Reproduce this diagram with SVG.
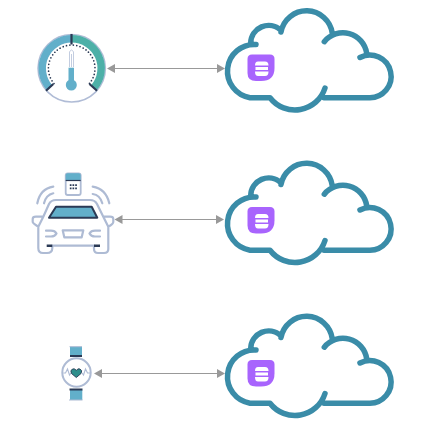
<svg xmlns="http://www.w3.org/2000/svg" width="427" height="427" viewBox="0 0 427 427">
<style>
.c{fill:none;stroke:#3a8ca8;stroke-width:5.5;stroke-linecap:round;stroke-linejoin:round}
.a{fill:none;stroke:#999;stroke-width:1}
.o{fill:none;stroke:#aebbd4;stroke-width:2.200;stroke-linecap:round;stroke-linejoin:round}
.d{fill:none;stroke:#2b3a55;stroke-width:2.200}
.h{fill:#999}
.ic{fill:#a864fd}
.b{fill:#fff}
</style>
<defs>
<g id="cloud">
<path class="c" d="M256 44.500A26.800 26.800 0 0 0 250 97.700H270A31.500 31.500 0 0 0 325 88M324 97.700H369A21.300 21.300 0 1 0 360 57.500M366.700 53.300A24 24 0 0 0 324.300 41.700M332.300 33.300A26 26 0 0 0 281 32M280.700 30A18 18 0 0 0 250.700 43"/>
<path class="ic" d="M252 54.500H270Q274.500 54.500 274.500 59V68Q274.500 81 261 81H256Q247.500 81 247.500 73V59Q247.500 54.500 252 54.500Z"/>
<path class="b" d="M258 61.500H265Q268.500 61.500 268.500 65.500H255Q255 61.500 258 61.500ZM255.500 67H268V70H255.500ZM255 71.500H268.500Q268.500 76 265 76H258Q255 76 255 71.500Z"/>
</g>
</defs>
<g id="connectors">
<path class="a" d="M112 68.500H220"/><path class="h" d="M107 68.500L115 64V73ZM225 68.500L217 64V73Z"/>
<path class="a" d="M120 219.500H220"/><path class="h" d="M114.500 219.500L122.500 215V224ZM224 219.500L216 215V224Z"/>
<path class="a" d="M99 373.500H220"/><path class="h" d="M94 373.500L102 369V378ZM225 373.500L217 369V378Z"/>
</g>
<g id="cloud-1"><use href="#cloud"/></g>
<g id="cloud-2"><use href="#cloud" y="152.500"/></g>
<g id="cloud-3"><use href="#cloud" y="305.500"/></g>
<g id="gauge">
<circle cx="71.700" cy="68.300" r="33.700" fill="none" stroke="#b0bcd6" stroke-width="1.500"/>
<path d="M49.400 87.600A29.500 29.500 0 0 1 71.700 38.800" fill="none" stroke="#62afca" stroke-width="7.500"/>
<path d="M71.700 38.800A29.500 29.500 0 0 1 94 87.600" fill="none" stroke="#4db0a8" stroke-width="7.500"/>
<path d="M54 83.500A23.300 23.300 0 1 1 89.400 83.500" fill="none" stroke="#2b3a55" stroke-width="1.700" stroke-linecap="round" stroke-dasharray="0 3.400"/>
<path class="d" d="M71.500 34V44.500M46 90.700L53.300 84M97 90.700L89.500 84"/>
<path d="M69.500 67V52Q71.500 48 73.500 52V67M71.500 54V67" fill="none" stroke="#c3cde0" stroke-width="1"/>
<rect x="68.500" y="67.700" width="5.500" height="15" fill="#62afca"/>
<circle cx="71.300" cy="85" r="5.500" fill="#62afca"/>
</g>
<g id="car">
<rect x="65.700" y="173.300" width="15" height="21.700" rx="2" fill="#fff" stroke="#aebbd4" stroke-width="1.800"/>
<path d="M65.700 180V175Q65.700 173.300 67.700 173.300H78.700Q80.700 173.300 80.700 175V180Z" fill="#62afca"/>
<path d="M65.700 180.500H80.700" stroke="#2b3a55" stroke-width="1.200"/>
<path fill="#2b3a55" d="M69.800 184.300h1.700v1.700h-1.700zM72.500 184.300h1.700v1.700h-1.700zM75.200 184.300h1.700v1.700h-1.700zM69.800 187.600h1.700v1.700h-1.700zM72.500 187.600h1.700v1.700h-1.700zM75.200 187.600h1.700v1.700h-1.700z"/>
<path class="o" d="M53.300 186.700Q40 189 37.300 203.300M53.300 193.300Q46 195 44 203.300M92.700 186.700Q106 189 109.300 203.300M92.700 194Q100 195 102.300 203.300"/>
<path class="o" d="M43.300 216.700H36Q32.700 216.700 32.700 219V222Q33 223.500 38.300 226.700V248Q38.300 253 43 253H47Q52.300 253 52.300 248V245.700H94V249Q94 253 98 253H104Q108.300 253 108.300 249V226.700Q113.300 224 113.300 222V219Q113.300 216.700 110 216.700H103.300L97 204Q95 200 90 200H56Q51 200 49 204ZM43.300 216.700L38.300 226.700M103.300 216.700L108.300 226.700"/>
<path d="M49 217.700L56 206.700H91.700L97.300 217.700Z" fill="#62afca" stroke="#2b3a55" stroke-width="2" stroke-linejoin="round"/>
<path class="o" d="M46 230.700H51Q55 230.700 56.500 233.500Q55 236.500 51 236.500H46M100 230.700H95Q91 230.700 89.500 233.500Q91 236.500 95 236.500H100"/>
<path class="o" d="M62.700 230.300H83.300L81.700 237.300H64.300Z"/>
<path d="M46.700 245.700H52.300M94 245.700H100" stroke="#2b3a55" stroke-width="2.400"/>
</g>
<g id="watch">
<rect x="70" y="346.700" width="12" height="9" fill="#62afca"/>
<path d="M70 400H82.300L82.300 390H70Z" fill="#62afca"/>
<path d="M69.500 346.700H82M69 400H82.500" stroke="#aebbd4" stroke-width="1"/>
<path d="M70 356H82M69.500 389.500H82.500" stroke="#2b3a55" stroke-width="1.800"/>
<circle cx="76.500" cy="372.500" r="14.200" fill="#fff" stroke="#aebbd4" stroke-width="2"/>
<path fill="none" stroke="#aebbd4" stroke-width="1.100" d="M63.300 373H65.500L67.500 369L69.500 375L71 373M82 373L83.500 375L85.500 369L87.500 373H90"/>
<path d="M76.300 377.500L71.500 373.500Q69.800 370.500 72.500 369Q75 368 76.300 370.500Q77.600 368 80 369Q82.800 370.500 81 373.500Z" fill="#2f8f8c" stroke="#2b3a55" stroke-width=".9"/>
</g>
</svg>
